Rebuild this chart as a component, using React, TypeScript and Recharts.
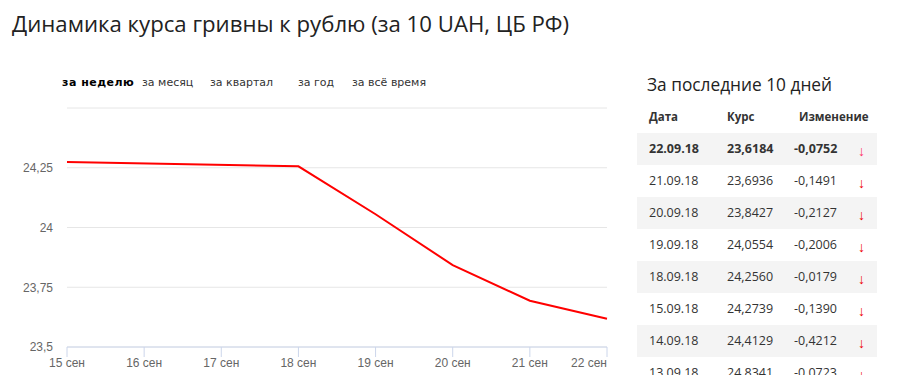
import { LineChart, Line, XAxis, YAxis, CartesianGrid } from 'recharts';

const chartDays = [15, 18, 19, 20, 21, 22];
const chartRates = [24.2739, 24.256, 24.0554, 23.8427, 23.6936, 23.6184];
const xTicks = [15, 16, 17, 18, 19, 20, 21, 22];
const yTicks = [23.5, 23.75, 24, 24.25, 24.5];
const tabs = ['за неделю', 'за месяц', 'за квартал', 'за год', 'за всё время'];
const tabX = [62, 142, 210, 298, 352];

const tableDates = ['22.09.18', '21.09.18', '20.09.18', '19.09.18', '18.09.18', '15.09.18', '14.09.18', '13.09.18'];
const tableRates = ['23,6184', '23,6936', '23,8427', '24,0554', '24,2560', '24,2739', '24,4129', '24,8341'];
const tableChanges = ['-0,0752', '-0,1491', '-0,2127', '-0,2006', '-0,0179', '-0,1390', '-0,4212', '-0,0723'];

const data = chartDays.map((d, i) => ({ day: d, rate: chartRates[i] }));

const axisFont = '"Liberation Sans", Arial, sans-serif';

const XTick = (props: any) => {
  const { x, y, payload } = props;
  const last = payload.value === xTicks[xTicks.length - 1];
  return (
    <text
      x={x}
      y={y}
      dy="0.71em"
      textAnchor={last ? 'end' : 'middle'}
      fill="#666"
      fontSize={12}
      fontFamily={axisFont}
    >
      {payload.value} сен
    </text>
  );
};

export default function App() {
  return (
    <div style={{ position: 'absolute', left: 0, top: 0, width: 897, height: 375, background: '#fff', overflow: 'hidden', color: '#333' }}>
      <div style={{ position: 'absolute', left: 12, top: 8, fontFamily: '"Open Sans", sans-serif', fontSize: 22.2, whiteSpace: 'nowrap', color: '#222' }}>
        Динамика курса гривны к рублю (за 10 UAH, ЦБ РФ)
      </div>

      {tabs.map((t, i) => (
        <div
          key={t}
          style={{
            position: 'absolute',
            left: tabX[i],
            top: 76,
            fontFamily: '"DejaVu Sans", Verdana, sans-serif',
            fontSize: 11,
            fontWeight: i === 0 ? 'bold' : 'normal',
            letterSpacing: i === 0 ? 0.5 : 0,
            color: i === 0 ? '#000' : '#333',
            whiteSpace: 'nowrap',
          }}
        >
          {t}
        </div>
      ))}

      <div style={{ position: 'absolute', left: 0, top: 90 }}>
        <LineChart width={620} height={285} data={data} margin={{ top: 18, right: 13, left: 0, bottom: 0 }}>
          <CartesianGrid vertical={false} stroke="#e6e6e6" />
          <XAxis
            dataKey="day"
            type="number"
            domain={[15, 22]}
            ticks={xTicks}
            interval={0}
            height={28}
            stroke="#ccd6eb"
            tickSize={10}
            tickMargin={1}
            tick={<XTick />}
          />
          <YAxis
            type="number"
            domain={[23.5, 24.5]}
            ticks={yTicks}
            interval={0}
            width={67}
            axisLine={false}
            tickLine={false}
            tickMargin={8}
            tick={{ fill: '#666', fontSize: 12, fontFamily: axisFont }}
            tickFormatter={(v: number) => (v === 24.5 ? '' : String(v).replace('.', ','))}
          />
          <Line type="linear" dataKey="rate" stroke="#ff0000" strokeWidth={2} dot={false} isAnimationActive={false} />
        </LineChart>
      </div>

      <div style={{ position: 'absolute', left: 647, top: 73, fontFamily: '"Open Sans", sans-serif', fontSize: 17.3, whiteSpace: 'nowrap', color: '#222' }}>
        За последние 10 дней
      </div>

      <div style={{ position: 'absolute', left: 637, top: 101, width: 240, fontFamily: '"Open Sans", sans-serif', fontSize: 12.5 }}>
        <div style={{ position: 'relative', height: 32, fontWeight: 'bold', fontSize: 11.5 }}>
          <span style={{ position: 'absolute', left: 12, top: 8 }}>Дата</span>
          <span style={{ position: 'absolute', left: 90, top: 8 }}>Курс</span>
          <span style={{ position: 'absolute', left: 162, top: 8 }}>Изменение</span>
        </div>
        {tableDates.map((d, i) => (
          <div
            key={d}
            style={{
              position: 'relative',
              height: 32,
              background: i % 2 === 0 ? '#f4f4f4' : '#fff',
              fontWeight: i === 0 ? 'bold' : 'normal',
            }}
          >
            <span style={{ position: 'absolute', left: 12, top: 7 }}>{d}</span>
            <span style={{ position: 'absolute', left: 90, top: 7 }}>{tableRates[i]}</span>
            <span style={{ position: 'absolute', left: 157, top: 7 }}>{tableChanges[i]}</span>
            <span style={{ position: 'absolute', left: 221, top: 8, color: i === 0 ? '#f36' : '#e00', fontWeight: 'normal', fontSize: 14 }}>↓</span>
          </div>
        ))}
      </div>
    </div>
  );
}
